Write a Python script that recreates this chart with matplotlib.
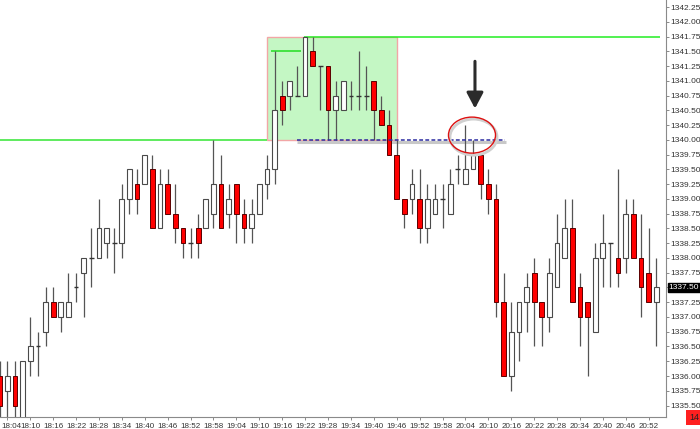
import matplotlib
matplotlib.use("Agg")
import matplotlib.pyplot as plt
from matplotlib.patches import Rectangle, Ellipse
import matplotlib.transforms as mtransforms
from matplotlib import font_manager
import pandas as pd

names = {f.name for f in font_manager.fontManager.ttflist}
narrow = 'Liberation Sans Narrow' if 'Liberation Sans Narrow' in names else None
plt.rcParams['font.family'] = ['Liberation Sans', 'DejaVu Sans']
tick_family = [narrow, 'Liberation Sans'] if narrow else ['Liberation Sans']
xsize = 7.1 if narrow else 5.8
ysize = 7.3 if narrow else 6.0

# 2-minute bars from 18:02 to 20:54
times = pd.date_range("2012-01-01 18:02", periods=87, freq="2min").strftime("%H:%M").tolist()

opens = [1336.0, 1335.75, 1336.0, 1335.0, 1336.25, 1336.5, 1336.75, 1337.25, 1337.0, 1337.0,
         1337.5, 1337.75, 1338.0, 1338.0, 1338.25, 1338.25, 1338.25, 1339.0, 1339.25, 1339.25,
         1339.5, 1338.5, 1339.25, 1338.75, 1338.5, 1338.25, 1338.5, 1338.5, 1338.75, 1339.25,
         1338.75, 1339.25, 1338.75, 1338.5, 1338.75, 1339.25, 1339.5, 1340.75, 1340.75, 1340.75,
         1340.75, 1341.5, 1341.25, 1341.25, 1340.5, 1340.5, 1340.75, 1340.75, 1340.75, 1341.0,
         1340.5, 1340.25, 1339.75, 1339.0, 1339.0, 1339.0, 1338.5, 1338.75, 1339.0, 1338.75,
         1339.5, 1339.25, 1339.5, 1339.75, 1339.25, 1339.0, 1337.25, 1336.0, 1336.75, 1337.25,
         1337.75, 1337.25, 1337.0, 1337.5, 1338.0, 1338.5, 1337.5, 1337.25, 1336.75, 1338.0,
         1338.25, 1338.0, 1338.0, 1338.75, 1338.0, 1337.75, 1337.25]
highs = [1336.25, 1336.25, 1336.25, 1336.25, 1337.0, 1336.75, 1337.5, 1337.5, 1337.25, 1337.75,
         1337.75, 1338.0, 1338.5, 1339.0, 1338.5, 1338.5, 1339.25, 1339.5, 1339.5, 1339.75,
         1339.75, 1339.5, 1339.5, 1339.25, 1338.5, 1338.5, 1338.75, 1339.0, 1340.0, 1339.75,
         1339.25, 1339.25, 1339.0, 1339.0, 1339.25, 1339.75, 1341.5, 1341.0, 1341.0, 1341.25,
         1341.75, 1341.75, 1341.25, 1341.25, 1341.0, 1341.0, 1341.0, 1341.5, 1341.25, 1341.0,
         1340.75, 1340.5, 1340.0, 1339.0, 1339.5, 1339.5, 1339.25, 1339.25, 1339.25, 1339.5,
         1339.75, 1340.25, 1340.0, 1339.75, 1339.5, 1339.25, 1337.75, 1337.25, 1337.25, 1337.75,
         1338.0, 1337.25, 1338.0, 1338.75, 1339.0, 1339.0, 1337.75, 1337.25, 1338.25, 1338.75,
         1338.25, 1339.5, 1339.0, 1339.0, 1338.75, 1338.5, 1338.0]
lows = [1335.25, 1335.25, 1335.25, 1335.0, 1336.0, 1336.0, 1336.5, 1337.0, 1336.75, 1337.0,
        1337.25, 1337.0, 1337.5, 1338.0, 1338.0, 1337.75, 1338.0, 1338.75, 1338.75, 1339.25,
        1338.5, 1338.5, 1338.75, 1338.25, 1338.0, 1338.0, 1338.0, 1338.5, 1338.5, 1338.5,
        1338.5, 1338.25, 1338.25, 1338.25, 1338.75, 1339.0, 1339.25, 1340.25, 1340.5, 1340.75,
        1340.75, 1341.25, 1340.5, 1340.0, 1340.0, 1340.5, 1340.5, 1340.5, 1340.5, 1340.0,
        1340.25, 1339.75, 1339.0, 1338.5, 1338.75, 1338.25, 1338.25, 1338.75, 1338.5, 1338.75,
        1339.25, 1339.25, 1339.5, 1339.0, 1338.75, 1337.0, 1336.0, 1335.75, 1336.25, 1336.75,
        1336.5, 1336.5, 1336.75, 1337.5, 1338.0, 1337.25, 1336.5, 1336.0, 1336.75, 1337.5,
        1337.5, 1337.5, 1337.75, 1338.0, 1337.0, 1337.25, 1336.5]
closes = [1335.5, 1336.0, 1335.5, 1336.25, 1336.5, 1336.5, 1337.25, 1337.0, 1337.25, 1337.25,
          1337.5, 1338.0, 1338.0, 1338.5, 1338.5, 1338.25, 1339.0, 1339.5, 1339.0, 1339.75,
          1338.5, 1339.25, 1338.75, 1338.5, 1338.25, 1338.25, 1338.25, 1339.0, 1339.25, 1338.5,
          1339.0, 1338.75, 1338.5, 1338.75, 1339.25, 1339.5, 1340.5, 1340.5, 1341.0, 1340.75,
          1341.75, 1341.25, 1341.25, 1340.5, 1340.75, 1341.0, 1340.75, 1340.75, 1340.75, 1340.5,
          1340.25, 1339.75, 1339.0, 1338.75, 1339.25, 1338.5, 1339.0, 1339.0, 1339.0, 1339.25,
          1339.5, 1339.5, 1339.75, 1339.25, 1339.0, 1337.25, 1336.0, 1336.75, 1337.25, 1337.5,
          1337.25, 1337.0, 1337.75, 1338.25, 1338.5, 1337.25, 1337.0, 1337.0, 1338.0, 1338.25,
          1338.25, 1337.75, 1338.75, 1338.0, 1337.5, 1337.25, 1337.5]

time_labels = ['18:04', '18:10', '18:16', '18:22', '18:28', '18:34', '18:40', '18:46', '18:52',
               '18:58', '19:04', '19:10', '19:16', '19:22', '19:28', '19:34', '19:40', '19:46',
               '19:52', '19:58', '20:04', '20:10', '20:16', '20:22', '20:28', '20:34', '20:40',
               '20:46', '20:52']
price_labels = ['1335.50', '1335.75', '1336.00', '1336.25', '1336.50', '1336.75', '1337.00',
                '1337.25', '1337.50', '1337.75', '1338.00', '1338.25', '1338.50', '1338.75',
                '1339.00', '1339.25', '1339.50', '1339.75', '1340.00', '1340.25', '1340.50',
                '1340.75', '1341.00', '1341.25', '1341.50', '1341.75', '1342.00', '1342.25']
last_price = 1337.50

# annotation levels
breakout_level = 1340.00
range_high = 1341.75
first_high = 1341.50

fig = plt.figure(figsize=(7.0, 4.29), dpi=100)
ax = fig.add_axes([0.0, 12 / 429, 666 / 700, 417 / 429])

xs = list(range(len(times)))
bw = 0.62
for x, o, h, l, c in zip(xs, opens, highs, lows, closes):
    ax.vlines(x, l, h, color='#555555', lw=0.9, zorder=2)
    if c > o:
        ax.add_patch(Rectangle((x - bw / 2, o), bw, c - o, facecolor='white',
                               edgecolor='#4a4a4a', lw=0.8, zorder=3))
    elif c < o:
        ax.add_patch(Rectangle((x - bw / 2, c), bw, o - c, facecolor='#ff0000',
                               edgecolor='#5a0000', lw=0.7, zorder=3))
    else:
        ax.hlines(o, x - bw / 2, x + bw / 2, color='#333333', lw=1.0, zorder=3)

# consolidation box
ax.add_patch(Rectangle((35.05, breakout_level), 52.0 - 35.05, range_high - breakout_level,
                       facecolor='#c4f7c4', edgecolor='#f2a6a6', lw=1.0, zorder=1))
# green levels
ax.hlines(breakout_level, -1, 35.05, color='#33e633', lw=1.1, zorder=1.5)
ax.hlines(range_high, 39.86, 86.5, color='#22ee22', lw=1.1, zorder=1.5)
ax.hlines(first_high, 35.5, 39.4, color='#22dd22', lw=1.1, zorder=1.5)

# blue dashed retest line with shadow
shadow = mtransforms.offset_copy(ax.transData, fig=fig, x=0.5, y=-1.8, units='dots')
ax.hlines(breakout_level, 38.9, 66.2, color='#c8c8c8', lw=2.2, zorder=1.6, transform=shadow)
ax.hlines(breakout_level, 38.9, 66.2, color='#2a2aa0', lw=1.1, linestyles=(0, (2.5, 1.5)), zorder=4)

# red ellipse with shadow
sh2 = mtransforms.offset_copy(ax.transData, fig=fig, x=1.5, y=-2.0, units='dots')
ax.add_patch(Ellipse((61.86, 1340.08), 6.16, 0.61, facecolor='none', edgecolor='#d0d0d0',
                     lw=2.0, zorder=4, transform=sh2))
ax.add_patch(Ellipse((61.86, 1340.08), 6.16, 0.61, facecolor='none', edgecolor='#dd1111',
                     lw=1.0, zorder=5))

# arrow
ax.annotate('', xy=(62.25, 1340.53), xytext=(62.25, 1341.33),
            arrowprops=dict(arrowstyle='-|>,head_length=0.95,head_width=0.5',
                            mutation_scale=10, lw=2.2, color='#2b2b2b', shrinkA=0, shrinkB=0),
            zorder=6)

ax.set_xlim(0.04, 87.27)
ax.set_ylim(1335.3056, 1342.3686)

tick_pos = [times.index(t) for t in time_labels]
ax.set_xticks(tick_pos)
xt = ax.set_xticklabels(time_labels, fontsize=xsize, color='#333333', family=tick_family)
ax.tick_params(axis='x', length=2, width=0.6, color='#777777', pad=2.0)
xt[0].set_transform(xt[0].get_transform() +
                    mtransforms.ScaledTranslation(3.0 / 72, 0, fig.dpi_scale_trans))

price_pos = [float(p) for p in price_labels]
ax.yaxis.tick_right()
ax.set_yticks(price_pos)
shown = ['' if float(p) == last_price else p for p in price_labels]
ax.set_yticklabels(shown, fontsize=ysize, color='#333333', family=tick_family)
ax.tick_params(axis='y', length=2, width=0.6, color='#777777', pad=0.8)

for s in ['top', 'left']:
    ax.spines[s].set_visible(False)
for s in ['right', 'bottom']:
    ax.spines[s].set_color('#8a8a8a')
    ax.spines[s].set_linewidth(0.8)

blend = mtransforms.blended_transform_factory(ax.transAxes, ax.transData)
ax.text(1.0040, last_price, f'{last_price:.2f}', transform=blend, fontsize=ysize,
        color='white', family=tick_family, va='center', ha='left', zorder=10, clip_on=False,
        bbox=dict(boxstyle='square,pad=0.12', facecolor='black', edgecolor='black'))

fig.text(0.9845, 0.016, '14', fontsize=6.5, color='#222222', ha='left', va='bottom',
         bbox=dict(boxstyle='square,pad=0.3', facecolor='#ff2020', edgecolor='none'))

fig.savefig('out.png', dpi=100)
